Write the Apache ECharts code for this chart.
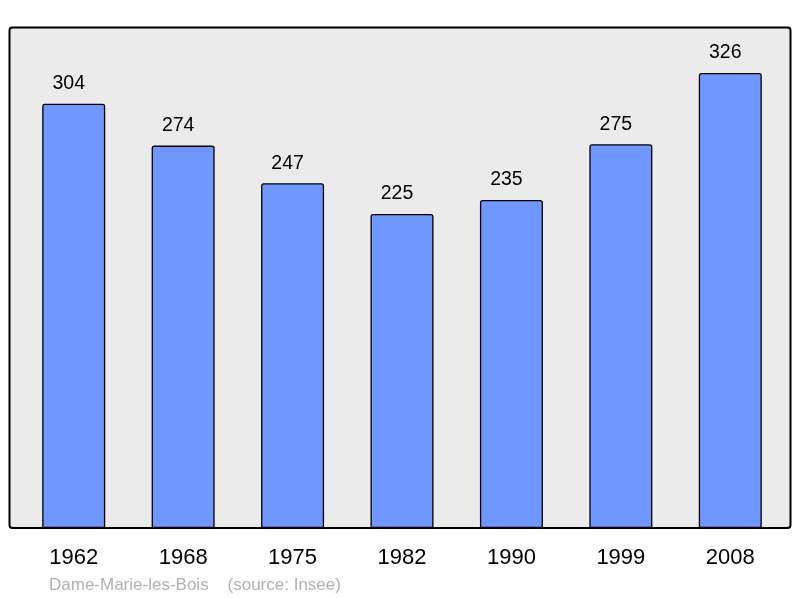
<!DOCTYPE html>
<html><head><meta charset="utf-8">
<script src="https://cdn.jsdelivr.net/npm/echarts@6/dist/echarts.min.js"></script>
<style>html,body{margin:0;padding:0;background:#fff}#c{width:800px;height:598px}</style>
</head><body><div id="c"></div>
<script>
const categories = ['1962','1968','1975','1982','1990','1999','2008'];
const population = [304,274,247,225,235,275,326];
const footer = 'Dame-Marie-les-Bois    (source: Insee)';

const chart = echarts.init(document.getElementById('c'), null, {renderer:'canvas'});
chart.setOption({
  animation:false,
  backgroundColor:'#ffffff',
  graphic:[
    {type:'rect', z:-10, shape:{x:9.5,y:27.5,width:781,height:500.5,r:3},
     style:{fill:'#ebebeb',stroke:'#000',lineWidth:2}},
    {type:'text', left:49, top:577, style:{text:footer, fill:'#b0b0b0', font:'17px "Liberation Sans", Arial, sans-serif'}}
  ],
  grid:{left:19, right:15, top:27, bottom:70, containLabel:false},
  xAxis:{type:'category', data:categories, boundaryGap:true,
    axisLine:{show:false}, axisTick:{show:false},
    axisLabel:{color:'#000', fontSize:22, fontFamily:'"Liberation Sans", Arial, sans-serif', margin:19}},
  yAxis:{type:'value', min:0, max:359, show:false, splitLine:{show:false}},
  series:[{type:'bar', data:population, barWidth:63,
    itemStyle:{color:'#7096ff', borderColor:'#000', borderWidth:1.3, borderRadius:[2,2,0,0]},
    label:{show:true, position:'top', distance:10, offset:[-5,0], color:'#000', fontSize:19.5,
      fontFamily:'"Liberation Sans", Arial, sans-serif'}}]
});
</script></body></html>
